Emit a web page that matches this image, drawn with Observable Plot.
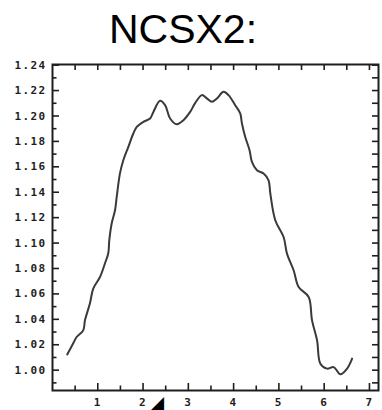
<!DOCTYPE html>
<html>
<head>
<meta charset="utf-8">
<script src="https://cdn.jsdelivr.net/npm/d3@7"></script>
<script src="https://cdn.jsdelivr.net/npm/@observablehq/plot@0.6"></script>
<style>
  body { margin: 0; background: #fff; }
  #title { position: relative; width: 382px; height: 52px; }
  #title span {
    position: absolute; left: -8px; top: 6px; width: 382px; text-align: center;
    font: 41px "Liberation Sans", Arial, sans-serif; line-height: normal; color: #000;
  }
  #chart svg g[aria-label$="tick label"] text { letter-spacing: 1.4px; }
</style>
</head>
<body>
<div id="title"><span>NCSX2:</span></div>
<div id="chart"></div>
<script>
// Profile samples
const profileX = [0.325, 0.458, 0.533, 0.679, 0.717, 0.827, 0.900, 1.049, 1.159, 1.232, 1.254, 1.308, 1.381, 1.418,
  1.491, 1.564, 1.675, 1.785, 1.861, 2.007, 2.155, 2.228, 2.376, 2.487, 2.597, 2.746, 2.892, 3.040, 3.150, 3.299,
  3.409, 3.520, 3.631, 3.777, 3.887, 4.035, 4.146, 4.184, 4.257, 4.352, 4.405, 4.515, 4.662, 4.772, 4.810, 4.920,
  5.104, 5.179, 5.325, 5.436, 5.657, 5.732, 5.843, 5.916, 6.064, 6.210, 6.358, 6.507, 6.617];
const profileY = [1.0124, 1.0211, 1.0261, 1.0313, 1.0392, 1.0526, 1.0642, 1.0733, 1.0841, 1.0920, 1.1022, 1.1156, 1.1258, 1.1363,
  1.1550, 1.1652, 1.1757, 1.1862, 1.1914, 1.1954, 1.1980, 1.2032, 1.2119, 1.2085, 1.1980, 1.1935, 1.1967, 1.2032, 1.2101, 1.2164,
  1.2138, 1.2111, 1.2138, 1.2190, 1.2164, 1.2085, 1.2020, 1.1941, 1.1835, 1.1731, 1.1639, 1.1573, 1.1547, 1.1494, 1.1392, 1.1180,
  1.1048, 1.0917, 1.0786, 1.0654, 1.0576, 1.0392, 1.0235, 1.0051, 1.0012, 1.0024, 0.9967, 1.0012, 1.0091];

// Axis ticks
const xMajorTicks = [1, 2, 3, 4, 5, 6, 7];
const xMinorTicks = [0.5, 1.5, 2.5, 3.5, 4.5, 5.5, 6.5];
const yMajorTicks = [1.00, 1.02, 1.04, 1.06, 1.08, 1.10, 1.12, 1.14, 1.16, 1.18, 1.20, 1.22, 1.24];
const yMinorTicks = [0.99, 1.01, 1.03, 1.05, 1.07, 1.09, 1.11, 1.13, 1.15, 1.17, 1.19, 1.21, 1.23];

// Position of the marker under the x axis
const markerX = [2.32];

const profile = profileX.map((x, i) => ({x, y: profileY[i]}));
const allX = xMajorTicks.concat(xMinorTicks);
const allY = yMajorTicks.concat(yMinorTicks);

const W = 382, H = 358;
const margin = {top: 12, right: 4, bottom: 20, left: 52};
const frameW = W - margin.left - margin.right;   // inner width
const frameH = H - margin.top - margin.bottom;   // inner height

const ink = "#1e1e1e";
const tickFont = {fontFamily: "DejaVu Sans Mono", fontWeight: "bold", fontSize: 11, fill: ink};
const tickStyle = {stroke: ink, strokeWidth: 1.6};

// short inward tick marks hugging one side of the frame
const leftTicks = (values, len) => Plot.tickY(values, {y: d => d, insetRight: frameW - len, ...tickStyle});
const rightTicks = (values, len) => Plot.tickY(values, {y: d => d, insetLeft: frameW - len, ...tickStyle});
const bottomTicks = (values, len) => Plot.tickX(values, {x: d => d, insetTop: frameH - len, ...tickStyle});
const topTicks = (values, len) => Plot.tickX(values, {x: d => d, insetBottom: frameH - len, ...tickStyle});

const chart = Plot.plot({
  width: W,
  height: H,
  marginTop: margin.top,
  marginBottom: margin.bottom,
  marginLeft: margin.left,
  marginRight: margin.right,
  x: {domain: [0, 7.2]},
  y: {domain: [0.984, 1.2405]},
  style: {background: "#fff", overflow: "visible"},
  marks: [
    Plot.axisY(yMajorTicks, {anchor: "left", tickSize: 0, tickPadding: 6, tickFormat: d3.format(".2f"), ...tickFont, label: null}),
    Plot.axisX(xMajorTicks, {anchor: "bottom", tickSize: 0, tickPadding: 8, tickFormat: d3.format("d"), ...tickFont, label: null}),
    leftTicks(yMajorTicks, 7),
    leftTicks(yMinorTicks, 4.5),
    rightTicks(allY, 6),
    bottomTicks(xMajorTicks, 7),
    bottomTicks(xMinorTicks, 4.5),
    topTicks(allX, 6),
    Plot.frame({stroke: ink, strokeWidth: 2}),
    Plot.line(profile, {x: "x", y: "y", stroke: "#3a3a3a", strokeWidth: 2, curve: "catmull-rom"}),
    Plot.text(markerX, {x: d => d, frameAnchor: "bottom", dy: 17, text: () => "\u25E2",
      fontFamily: "DejaVu Sans", fontSize: 17, fill: "#000"})
  ]
});
document.getElementById("chart").appendChild(chart);
</script>
</body>
</html>
